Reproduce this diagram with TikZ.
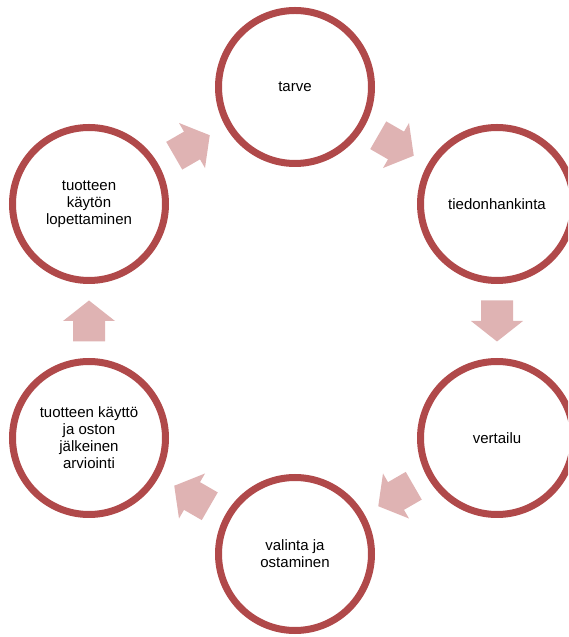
\documentclass[tikz,border=0pt]{standalone}
\usepackage{fontspec}
\setmainfont{Liberation Sans}
\usetikzlibrary{calc}
\definecolor{DRed}{HTML}{B0494A}
\definecolor{LPink}{HTML}{DFB3B3}
\NewDocumentCommand{\BlockArrow}{O{(0,0)} m}{
    \begin{scope}[shift={#1}, rotate=#2]
    \fill[LPink] (-20.5,-16) -- (0,-16) -- (0,-26) -- (20.5,0)
        -- (0,26) -- (0,16) -- (-20.5,16) -- cycle;
    \end{scope}
}

\begin{document}
\begin{tikzpicture}[x=1pt, y=1pt,
    phase/.style={circle, draw=DRed, line width=7pt, fill=white,
        minimum size=153pt, inner sep=0pt, align=center,
        font=\fontsize{15}{17}\selectfont}]
\useasboundingbox (0,0) rectangle (568,637);
\clip (0,0) rectangle (568,637);

\node[phase] (tarve)   at (295,550) {tarve};
\node[phase] (tiedon)  at (497,433) {tiedonhankinta};
\node[phase] (vertailu) at (497,199) {vertailu};
\node[phase] (valinta) at (295,83)  {valinta ja\\ostaminen};
\node[phase] (kaytto)  at (89,199)  {tuotteen käyttö\\ja oston\\jälkeinen\\arviointi};
\node[phase] (lopetus) at (89,433)  {tuotteen\\käytön\\lopettaminen};

\coordinate (tarve-arrow)    at ($(tarve)!0.5!(tiedon)$);
\coordinate (tiedon-arrow)   at ($(tiedon)!0.5!(vertailu)$);
\coordinate (vertailu-arrow) at ($(vertailu)!0.5!(valinta)$);
\coordinate (valinta-arrow)  at ($(valinta)!0.5!(kaytto)$);
\coordinate (kaytto-arrow)   at ($(kaytto)!0.5!(lopetus)$);
\coordinate (lopetus-arrow)  at ($(lopetus)!0.5!(tarve)$);

\BlockArrow[(tarve-arrow)]{-30}
\BlockArrow[(tiedon-arrow)]{-90}
\BlockArrow[(vertailu-arrow)]{-150}
\BlockArrow[(valinta-arrow)]{150}
\BlockArrow[(kaytto-arrow)]{90}
\BlockArrow[(lopetus-arrow)]{30}
\end{tikzpicture}
\end{document}
